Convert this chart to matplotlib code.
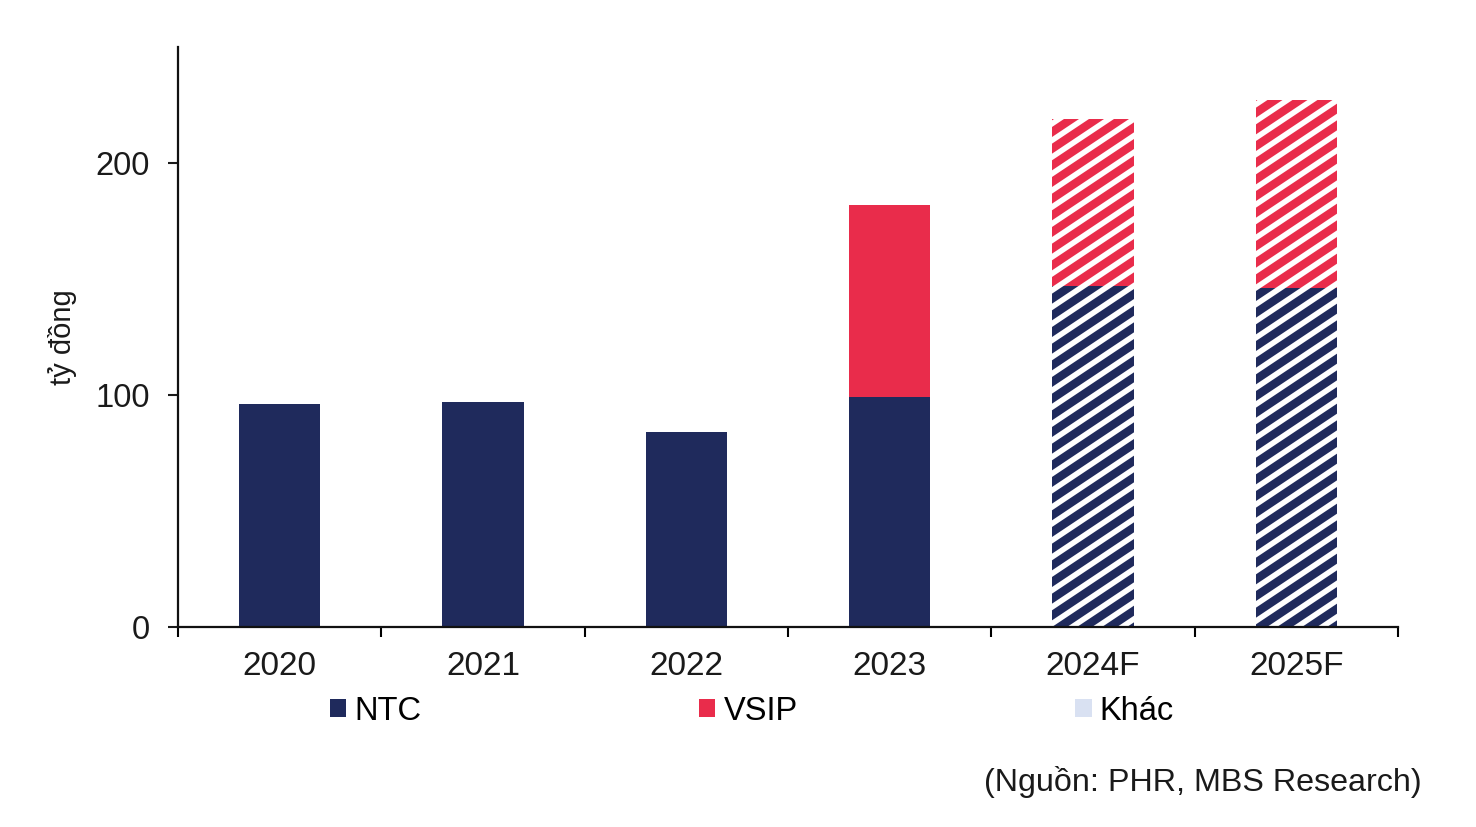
import matplotlib
matplotlib.use("Agg")
import matplotlib.pyplot as plt
import matplotlib.hatch as mhatch
from matplotlib.path import Path
import numpy as np
from matplotlib.patches import Patch

categories = ["2020", "2021", "2022", "2023", "2024F", "2025F"]
ntc = [96, 97, 84, 99, 147, 146]
vsip = [0, 0, 0, 83, 72, 81]
khac = [0, 0, 0, 0, 0, 0]
forecast = [False, False, False, False, True, True]

NAVY = "#1F2A5C"
RED = "#E92C4B"
LIGHT = "#D9E1F2"


# Shallower diagonal stripe pattern (slope 2/3) used for '/' hatching
class SlantHatch(mhatch.HatchPatternBase):
    def __init__(self, hatch, density):
        self.num_lines = int(hatch.count('/') * density)
        self.js = list(range(-12, 13)) if self.num_lines else []
        self.num_vertices = len(self.js) * 2

    def set_vertices_and_codes(self, vertices, codes):
        n = self.num_lines
        k = 2.0 / 3.0
        for i, j in enumerate(self.js):
            c = j / n
            x0, x1 = -0.5, 1.5
            vertices[2 * i] = (x0, k * x0 + c)
            vertices[2 * i + 1] = (x1, k * x1 + c)
        codes[0::2] = Path.MOVETO
        codes[1::2] = Path.LINETO


mhatch._hatch_types = [SlantHatch if t is mhatch.NorthEastHatch else t
                       for t in mhatch._hatch_types]

plt.rcParams["font.family"] = ["Liberation Sans", "DejaVu Sans"]
plt.rcParams["hatch.linewidth"] = 6.0

fig = plt.figure(figsize=(14.76, 8.27), dpi=100)
ax = fig.add_axes([178/1476, 1-627/827, (1398-178)/1476, (627-47)/827])

x = np.arange(len(categories))
w = 0.4
bottom = np.zeros(len(categories))
for vals, col in [(ntc, NAVY), (vsip, RED), (khac, LIGHT)]:
    for i, v in enumerate(vals):
        if v <= 0:
            continue
        if forecast[i]:
            ax.bar(x[i], v, w, bottom=bottom[i], facecolor="white", edgecolor=col,
                   hatch="/", linewidth=0)
        else:
            ax.bar(x[i], v, w, bottom=bottom[i], color=col, linewidth=0)
    bottom += np.array(vals)

ax.set_xlim(-0.5, len(categories) - 0.5)
ax.set_ylim(0, 250)
ax.set_yticks([0, 100, 200])
ax.set_xticks(x)
ax.set_xticklabels(categories)
ax.set_xticks(np.arange(-0.5, len(categories)), minor=True)
ax.tick_params(axis="x", which="major", length=0, pad=17.5, labelsize=24, colors="#1a1a1a")
ax.tick_params(axis="x", which="minor", length=7, width=1.5, direction="out")
ax.tick_params(axis="y", length=7, width=1.5, pad=13, labelsize=23.5, colors="#1a1a1a")
for s in ["top", "right"]:
    ax.spines[s].set_visible(False)
for s in ["left", "bottom"]:
    ax.spines[s].set_linewidth(1.6)
    ax.spines[s].set_color("#111111")

ax.set_ylabel("tỷ đồng", fontsize=21, color="#1a1a1a")
ax.yaxis.set_label_coords(-0.083, 0.5)

handles = [Patch(facecolor=NAVY, edgecolor="none", label="NTC"),
           Patch(facecolor=RED, edgecolor="none", label="VSIP"),
           Patch(facecolor=LIGHT, edgecolor="none", label="Khác")]
fig.legend(handles=handles, loc="center left", bbox_to_anchor=(330/1476, 1-711/827),
           ncol=3, frameon=False, fontsize=23.5, handlelength=0.5, handleheight=0.5,
           handletextpad=0.25, columnspacing=8.5, borderaxespad=0, borderpad=0)

fig.text(1422/1476, 1-782/827, "(Nguồn: PHR, MBS Research)", ha="right", va="center",
         fontsize=23.2, color="#1a1a1a")

fig.savefig("out.png", dpi=100)
